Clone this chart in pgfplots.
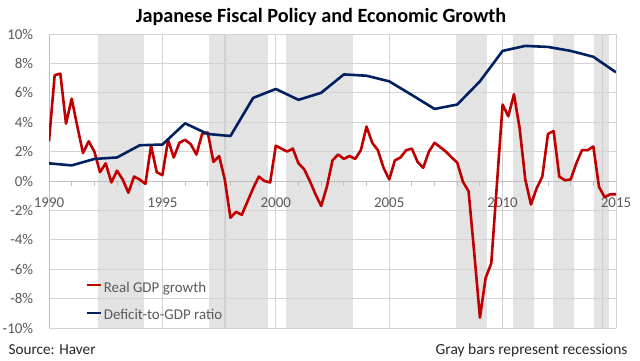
\documentclass[border=0pt]{standalone}
\usepackage{pgfplots}
\pgfplotsset{compat=1.18}
\usepackage{fontspec}
\setmainfont{Carlito}
\definecolor{gdpred}{HTML}{C00000}
\definecolor{defblue}{HTML}{002060}
\definecolor{recgray}{HTML}{E3E3E3}
\definecolor{recline}{HTML}{D0D0D0}
\definecolor{gridgray}{HTML}{D3D3D3}
\definecolor{axgray}{HTML}{BFBFBF}
\definecolor{labgray}{HTML}{595959}
\begin{document}
\begin{tikzpicture}[x=1bp,y=1bp]
\path (0,0) rectangle (640,360);
\node[font=\bfseries\fontsize{20.3}{24}\selectfont, text=black] at (321,343) {Japanese Fiscal Policy and Economic Growth};
\node[anchor=base west, font=\fontsize{15.3}{18}\selectfont, text=black!85] at (5,5) {Source: Haver};
\node[anchor=base east, font=\fontsize{15.5}{18}\selectfont, text=black!85] at (631,5) {Gray bars represent recessions};
\begin{axis}[
  set layers,
  at={(49bp,32bp)}, anchor=south west,
  scale only axis, width=567bp, height=294bp,
  xmin=1990, xmax=2015, ymin=-10, ymax=10,
  axis line style={draw=none},
  xtick={1990,1995,2000,2005,2010,2015},
  xticklabels={1990,1995,2000,2005,2010,2015},
  ytick={-10,-8,-6,-4,-2,0,2,4,6,8,10},
  yticklabels={-10\%,-8\%,-6\%,-4\%,-2\%,0\%,2\%,4\%,6\%,8\%,10\%},
  grid=major, major grid style={gridgray, line width=0.9bp},
  major tick length=0pt,
  tick label style={font=\fontsize{15}{18}\selectfont, text=labgray, inner sep=0pt},
  yticklabel style={anchor=east, xshift=-15.7bp},
  xticklabel style={anchor=center, yshift=125.3bp},
  legend style={at={(rel axis cs:0.0635,0.1565)}, anchor=north west, draw=none, fill=none,
    inner sep=0pt, row sep=14.7bp, column sep=2bp, font=\fontsize{15}{18}\selectfont, text=labgray,
    nodes={inner sep=0pt, text height=10bp, text depth=3bp}},
  legend cell align=left,
  legend image code/.code={\draw[#1] (0bp,3.5bp) -- (14bp,3.5bp);},
]
% recession bars
\addplot[on layer=axis background, fill=recgray, draw=none, forget plot] coordinates {(1992.15,-10) (1994.2,-10) (1994.2,10) (1992.15,10)};
\addplot[on layer=axis background, fill=recgray, draw=none, forget plot] coordinates {(1997.06,-10) (1999.65,-10) (1999.65,10) (1997.06,10)};
\addplot[on layer=axis background, fill=recgray, draw=none, forget plot] coordinates {(2000.47,-10) (2003.4,-10) (2003.4,10) (2000.47,10)};
\addplot[on layer=axis background, fill=recgray, draw=none, forget plot] coordinates {(2007.95,-10) (2009.32,-10) (2009.32,10) (2007.95,10)};
\addplot[on layer=axis background, fill=recgray, draw=none, forget plot] coordinates {(2010.48,-10) (2011.38,-10) (2011.38,10) (2010.48,10)};
\addplot[on layer=axis background, fill=recgray, draw=none, forget plot] coordinates {(2012.23,-10) (2013.13,-10) (2013.13,10) (2012.23,10)};
\addplot[on layer=axis background, fill=recgray, draw=none, forget plot] coordinates {(2014.05,-10) (2014.7,-10) (2014.7,10) (2014.05,10)};
\addplot[on layer=axis background, recline, line width=1.1bp, forget plot] coordinates {(1997.76,-10) (1997.76,10)};
\addplot[on layer=axis background, recline, line width=1.1bp, forget plot] coordinates {(2014.4,-10) (2014.4,10)};
% axis lines
\draw[axgray, line width=0.9bp] (axis cs:1990,-10) -- (axis cs:1990,10);
\draw[axgray, line width=0.9bp] (axis cs:1990,0) -- (axis cs:2015,0);
\pgfplotsinvokeforeach{1990,1991,1992,1993,1994,1995,1996,1997,1998,1999,2000,2001,2002,2003,2004,2005,2006,2007,2008,2009,2010,2011,2012,2013,2014,2015}{
  \draw[axgray, line width=0.9bp] (axis cs:#1,0) -- ([yshift=-5bp]axis cs:#1,0);
}
% Real GDP growth (quarterly)
\addplot[gdpred, line width=2.6bp, line join=round] table {
1990.00 2.7
1990.25 7.2
1990.50 7.3
1990.75 3.9
1991.00 5.6
1991.25 3.7
1991.50 1.9
1991.75 2.7
1992.00 2.0
1992.25 0.6
1992.50 1.2
1992.75 -0.1
1993.00 0.7
1993.25 0.1
1993.50 -0.8
1993.75 0.3
1994.00 0.1
1994.25 -0.2
1994.50 2.4
1994.75 0.6
1995.00 0.4
1995.25 2.8
1995.50 1.6
1995.75 2.6
1996.00 2.8
1996.25 2.5
1996.50 1.8
1996.75 3.2
1997.00 3.3
1997.25 1.3
1997.50 1.7
1997.75 0.1
1998.00 -2.5
1998.25 -2.1
1998.50 -2.3
1998.75 -1.4
1999.00 -0.5
1999.25 0.3
1999.50 0.0
1999.75 -0.1
2000.00 2.4
2000.25 2.2
2000.50 2.0
2000.75 2.2
2001.00 1.2
2001.25 0.8
2001.50 0.0
2001.75 -0.9
2002.00 -1.7
2002.25 -0.4
2002.50 1.4
2002.75 1.8
2003.00 1.5
2003.25 1.7
2003.50 1.5
2003.75 2.1
2004.00 3.7
2004.25 2.6
2004.50 2.1
2004.75 0.9
2005.00 0.1
2005.25 1.4
2005.50 1.6
2005.75 2.1
2006.00 2.2
2006.25 1.3
2006.50 0.9
2006.75 2.0
2007.00 2.6
2007.25 2.3
2007.50 2.0
2007.75 1.6
2008.00 1.25
2008.25 -0.05
2008.50 -0.7
2008.75 -4.9
2009.00 -9.3
2009.25 -6.6
2009.50 -5.6
2009.75 -0.2
2010.00 5.2
2010.25 4.4
2010.50 5.9
2010.75 3.6
2011.00 0.1
2011.25 -1.6
2011.50 -0.5
2011.75 0.3
2012.00 3.2
2012.25 3.4
2012.50 0.3
2012.75 0.05
2013.00 0.1
2013.25 1.2
2013.50 2.1
2013.75 2.1
2014.00 2.35
2014.25 -0.4
2014.50 -1.1
2014.75 -0.9
2015.00 -0.9
};
\addlegendentry{Real GDP growth}
% Deficit-to-GDP ratio (annual)
\addplot[defblue, line width=2.6bp, line join=round] table {
1990 1.2
1991 1.06
1992 1.5
1993 1.6
1994 2.43
1995 2.48
1996 3.92
1997 3.2
1998 3.06
1999 5.65
2000 6.26
2001 5.52
2002 6.0
2003 7.25
2004 7.16
2005 6.78
2006 5.85
2007 4.9
2008 5.2
2009 6.78
2010 8.85
2011 9.19
2012 9.12
2013 8.85
2014 8.45
2015 7.39
};
\addlegendentry{Deficit-to-GDP ratio}
\end{axis}
\end{tikzpicture}
\end{document}
